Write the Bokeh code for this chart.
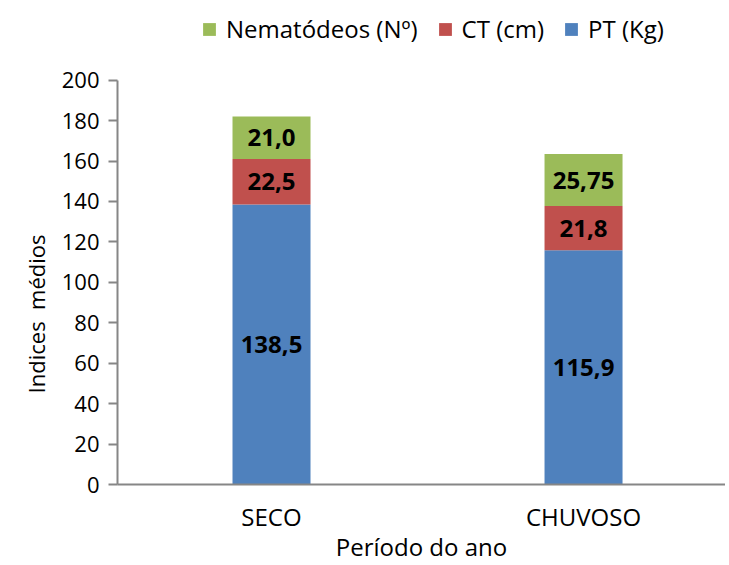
from bokeh.plotting import figure
from bokeh.models import ColumnDataSource, Legend, LegendItem, FixedTicker, Range1d, LabelSet, CustomJSTickFormatter
from bokeh.embed import file_html
from bokeh.resources import INLINE
from bokeh.core.properties import value

categories = ["SECO", "CHUVOSO"]
pt = [138.5, 115.9]
ct = [22.5, 21.8]
nem = [21.0, 25.75]
pt_labels = ["138,5", "115,9"]
ct_labels = ["22,5", "21,8"]
nem_labels = ["21,0", "25,75"]
series_names = ["Nematódeos (Nº)", "CT (cm)", "PT (Kg)"]
y_ticks = [0, 20, 40, 60, 80, 100, 120, 140, 160, 180, 200]

FONT = "Open Sans"
C_PT, C_CT, C_NEM = "#4F81BD", "#C0504D", "#9BBB59"

xpos = [0.5 + i for i in range(len(categories))]
b1 = [0] * len(pt)
t1 = pt
t2 = [a + b for a, b in zip(pt, ct)]
t3 = [a + b for a, b in zip(t2, nem)]

src = ColumnDataSource(dict(
    x=xpos, b1=b1, t1=t1, t2=t2, t3=t3,
    m1=[(a + b) / 2 for a, b in zip(b1, t1)],
    m2=[(a + b) / 2 for a, b in zip(t1, t2)],
    m3=[(a + b) / 2 for a, b in zip(t2, t3)],
    l1=pt_labels, l2=ct_labels, l3=nem_labels,
))

p = figure(width=725, height=565, output_backend="svg", toolbar_location=None,
           x_range=Range1d(0.0064, 1.955), y_range=Range1d(0, 239.4),
           min_border_left=117, min_border_bottom=0, min_border_top=0, min_border_right=0)
p.outline_line_color = None
p.xgrid.visible = False
p.ygrid.visible = False

w = 0.25
r1 = p.vbar(x="x", bottom="b1", top="t1", width=w, source=src, fill_color=C_PT, line_color=None)
r2 = p.vbar(x="x", bottom="t1", top="t2", width=w, source=src, fill_color=C_CT, line_color=None)
r3 = p.vbar(x="x", bottom="t2", top="t3", width=w, source=src, fill_color=C_NEM, line_color=None)

for m, l in (("m1", "l1"), ("m2", "l2"), ("m3", "l3")):
    p.add_layout(LabelSet(x="x", y=m, text=l, source=src, text_align="center", text_baseline="middle",
                          text_font=value(FONT), text_font_style="bold", text_font_size="24px",
                          text_color="black"))

p.yaxis.ticker = FixedTicker(ticks=y_ticks)
p.yaxis.bounds = (0, 200)
p.xaxis.ticker = FixedTicker(ticks=xpos)
p.xaxis.formatter = CustomJSTickFormatter(args=dict(cats=categories),
                                          code="return cats[Math.round(tick - 0.5)];")
for ax in (p.xaxis[0], p.yaxis[0]):
    ax.axis_line_color = "#868686"
    ax.axis_line_width = 2
    ax.major_tick_line_color = "#868686"
    ax.major_tick_line_width = 2
    ax.minor_tick_line_color = None
    ax.major_label_text_font = FONT
    ax.major_label_text_color = "black"
    ax.axis_label_text_font = FONT
    ax.axis_label_text_font_style = "normal"
    ax.axis_label_text_color = "black"
p.yaxis.major_label_text_font_size = "22px"
p.xaxis.major_label_text_font_size = "24px"
p.yaxis.axis_label_text_font_size = "22px"
p.xaxis.axis_label_text_font_size = "24px"
p.yaxis.major_tick_out = 9
p.yaxis.major_tick_in = 0
p.yaxis.major_label_standoff = 9
p.xaxis.major_tick_out = 0
p.xaxis.major_tick_in = 0
p.xaxis.major_label_standoff = 15
p.yaxis.axis_label = "Indices\u00a0 médios" + "\u00a0" * 25
p.xaxis.axis_label = "Período do ano"
p.xaxis.axis_label_standoff = -6
p.yaxis.axis_label_standoff = 8

legend = Legend(items=[LegendItem(label=series_names[0], renderers=[r3]),
                       LegendItem(label=series_names[1], renderers=[r2]),
                       LegendItem(label=series_names[2], renderers=[r1])],
                orientation="horizontal", location=(84, 439),
                label_text_font=FONT, label_text_font_size="24px", label_text_color="black",
                glyph_width=16, glyph_height=16, label_standoff=9, spacing=19,
                border_line_color=None, background_fill_alpha=0, padding=0, margin=0)
p.add_layout(legend, "center")

open("out.html", "w").write(file_html(p, INLINE))
